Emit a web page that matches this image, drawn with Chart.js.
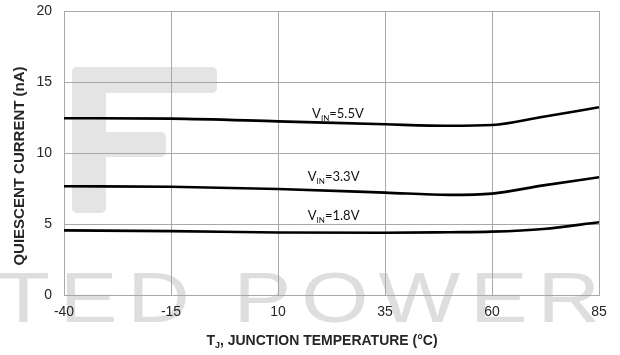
<!DOCTYPE html>
<html>
<head>
<meta charset="utf-8">
<script src="https://cdn.jsdelivr.net/npm/chart.js"></script>
<style>
html, body { margin: 0; padding: 0; background: #fff; }
#wrap { width: 620px; height: 355px; position: relative; }
</style>
</head>
<body>
<div id="wrap"><canvas id="iqChart"></canvas></div>
<script>
// Quiescent current vs junction temperature, three input voltages
const temps = [-40, -15, 10, 35, 50, 60, 72, 85];
const iq55 = [12.45, 12.42, 12.23, 12.02, 11.92, 11.97, 12.55, 13.22];
const iq33 = [7.66, 7.62, 7.46, 7.21, 7.05, 7.14, 7.72, 8.29];
const iq18 = [4.55, 4.50, 4.40, 4.38, 4.42, 4.46, 4.65, 5.12];
const xTicks = [-40, -15, 10, 35, 60, 85];
const yTicks = [0, 5, 10, 15, 20];
const vinNames = ["5.5V", "3.3V", "1.8V"];

const GRID = "#a8a8a8";
const TXT = "#262626";
const NARROW = '"Liberation Sans Narrow", "Liberation Sans", Arial, sans-serif';

function pts(ys) {
    return temps.map((t, k) => ({ x: t, y: ys[k] }));
}

function curve(ys) {
    return {
        data: pts(ys),
        borderColor: "#000",
        borderWidth: 2.6,
        pointRadius: 0,
        fill: false,
        cubicInterpolationMode: "monotone"
    };
}

// draws main text + subscript + rest, centred on x
function subText(ctx, x, y, main, sub, rest, size, bold, family) {
    const w = bold ? "bold " : "";
    const big = w + size + "px " + family;
    const small = w + Math.round(size * 0.62) + "px " + family;
    ctx.font = big; const w1 = ctx.measureText(main).width;
    const w3 = ctx.measureText(rest).width;
    ctx.font = small; const w2 = ctx.measureText(sub).width;
    let cx = x - (w1 + w2 + w3) / 2;
    ctx.textAlign = "left";
    ctx.textBaseline = "alphabetic";
    ctx.font = big; ctx.fillText(main, cx, y); cx += w1;
    ctx.font = small; ctx.fillText(sub, cx, y + size * 0.22); cx += w2;
    ctx.font = big; ctx.fillText(rest, cx, y);
}

function rrect(ctx, x, y, w, h, r) {
    ctx.beginPath();
    ctx.roundRect(x, y, w, h, r);
    ctx.fill();
}

const decor = {
    id: "decor",
    beforeDraw(chart) {
        const ctx = chart.ctx;
        ctx.save();
        ctx.fillStyle = "#fff";
        ctx.fillRect(0, 0, chart.width, chart.height);
        // faint watermark behind the grid
        ctx.fillStyle = "#e4e4e4";
        rrect(ctx, 72, 67, 34, 146, 5);
        rrect(ctx, 72, 67, 145, 26, 5);
        rrect(ctx, 72, 132, 94, 25, 5);
        ctx.fillStyle = "#dedede";
        ctx.font = '70px "Liberation Sans", Arial, sans-serif';
        ctx.textBaseline = "alphabetic";
        ctx.textAlign = "left";
        ctx.letterSpacing = "8px";
        const word = "TED POWER";
        const ww = ctx.measureText(word).width - 8;
        ctx.translate(-3, 322);
        ctx.scale(603 / ww, 1);
        ctx.fillText(word, 0, 0);
        ctx.restore();
    },
    afterDraw(chart) {
        const ctx = chart.ctx;
        const xs = chart.scales.x, ys = chart.scales.y;
        ctx.save();
        ctx.fillStyle = "#111";
        const anchors = [[24, 12.8], [23, 8.35], [23, 5.6]];
        vinNames.forEach((n, k) => {
            subText(ctx, xs.getPixelForValue(anchors[k][0]), ys.getPixelForValue(anchors[k][1]) + 5,
                "V", "IN", "=" + n, 13, false, 'Lato, "Open Sans", sans-serif');
        });
        ctx.fillStyle = TXT;
        subText(ctx, 322, 345, "T", "J", ", JUNCTION TEMPERATURE (°C)", 14, true, NARROW);
        ctx.translate(24, 166);
        ctx.rotate(-Math.PI / 2);
        ctx.font = "bold 15px " + NARROW;
        ctx.textAlign = "center";
        ctx.fillText("QUIESCENT CURRENT (nA)", 0, 0);
        ctx.restore();
    }
};

new Chart(document.getElementById("iqChart"), {
    type: "line",
    data: { datasets: [curve(iq55), curve(iq33), curve(iq18)] },
    options: {
        responsive: true,
        maintainAspectRatio: false,
        animation: false,
        events: [],
        layout: { padding: { left: 0, right: 21, top: 11, bottom: 0 } },
        plugins: { legend: { display: false }, tooltip: { enabled: false } },
        scales: {
            x: {
                type: "linear",
                min: -40, max: 85,
                afterBuildTicks: s => { s.ticks = xTicks.map(v => ({ value: v })); },
                afterFit: s => { s.height = 60; },
                ticks: { color: TXT, padding: 9, font: { size: 14, family: '"Liberation Sans", Arial' }, maxRotation: 0 },
                grid: { color: GRID, lineWidth: 1, drawTicks: false },
                border: { color: GRID }
            },
            y: {
                min: 0, max: 20,
                afterBuildTicks: s => { s.ticks = yTicks.map(v => ({ value: v })); },
                afterFit: s => { s.width = 64; s.paddingTop = 0; s.paddingBottom = 0; },
                ticks: { color: TXT, padding: 12, font: { size: 14, family: '"Liberation Sans", Arial' } },
                grid: { color: GRID, lineWidth: 1, drawTicks: false },
                border: { color: GRID }
            }
        }
    },
    plugins: [decor]
});
</script>
</body>
</html>
